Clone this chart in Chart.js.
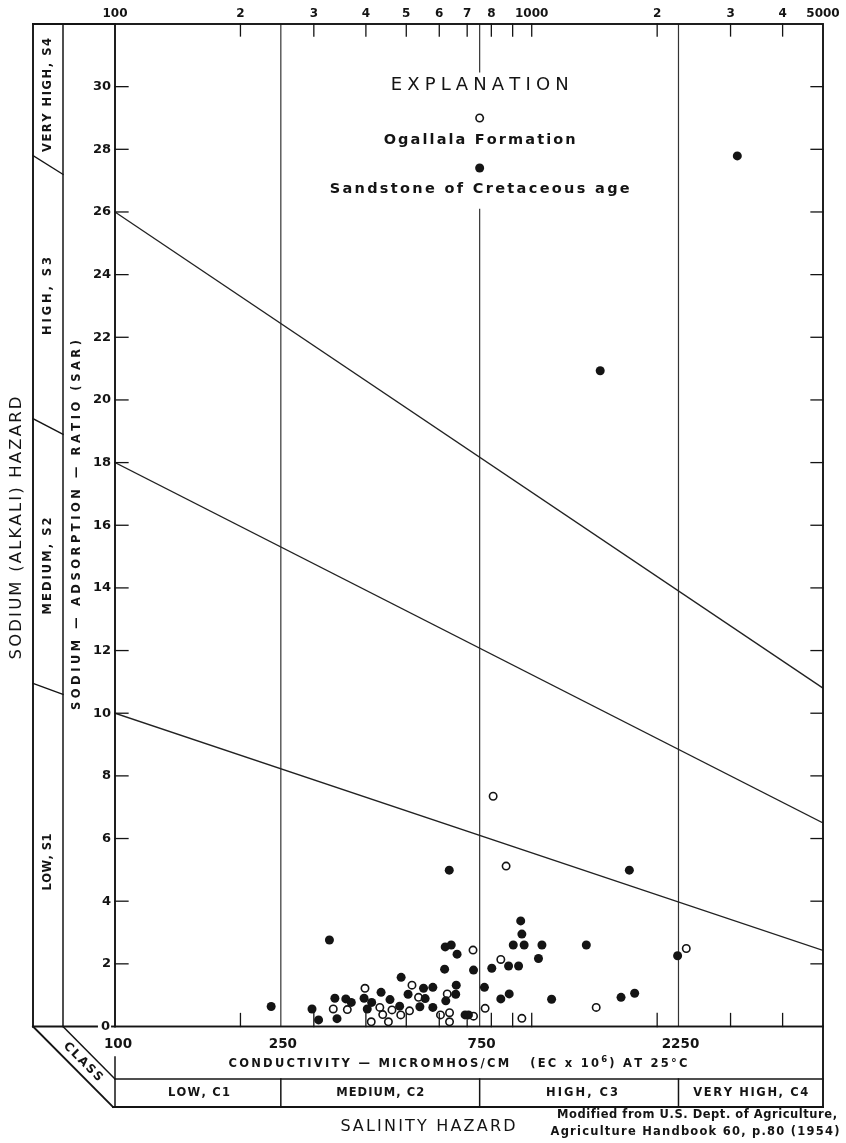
<!DOCTYPE html>
<html><head><meta charset="utf-8">
<script src="https://cdn.jsdelivr.net/npm/chart.js@4.4.1/dist/chart.umd.min.js"></script>
<style>html,body{margin:0;padding:0;background:#fff;}#wrap{width:846px;height:1143px;}</style>
</head><body><div id="wrap"><canvas id="c" width="846" height="1143"></canvas></div>
<script>
// ---- data ----
const cretaceousEC  = [237,327,297,308,337,341,358,369,396,403,413,435,457,486,505,482,550,579,555,539,579,620,641,662,618,725,659,657,622,692,705,770,802,880,930,843,883,903,941,947,959,1038,1058,1116,1352,1638,1766,1715,2239,1460,3114,634];
const cretaceousSAR = [0.64,2.76,0.56,0.21,0.90,0.25,0.88,0.77,0.90,0.56,0.77,1.09,0.86,1.57,1.03,0.65,1.22,1.25,0.89,0.63,0.61,2.54,2.60,2.31,1.83,1.80,1.32,1.03,0.82,0.37,0.37,1.25,1.86,1.93,1.93,0.88,1.04,2.60,3.37,2.95,2.60,2.17,2.60,0.87,2.60,0.93,1.06,4.99,2.26,20.93,27.79,4.99];
const ogallalaEC  = [334,361,398,412,432,439,462,453,485,516,509,535,627,604,635,635,723,725,773,843,947,1428,2349,808,868];
const ogallalaSAR = [0.56,0.54,1.22,0.15,0.61,0.38,0.53,0.15,0.37,1.32,0.50,0.93,1.04,0.37,0.44,0.15,2.44,0.33,0.58,2.14,0.26,0.61,2.49,7.35,5.12];

const salinityBounds  = [100, 250, 750, 2250, 5000];
const salinityClasses = ['LOW, C1', 'MEDIUM, C2', 'HIGH, C3', 'VERY HIGH, C4'];
const sarLineAt100  = [10, 18, 26];
const sarLineAt5000 = [2.43, 6.5, 10.8];
const sodiumClasses = ['LOW, S1', 'MEDIUM, S2', 'HIGH, S3', 'VERY HIGH, S4'];
const sodiumBoundOuter = [10.95, 19.4, 27.8];
const sodiumBoundInner = [10.6, 18.9, 27.2];
const logTickValues = [200,300,400,500,600,700,800,900,1000,2000,3000,4000];
const topLabelValues = [100,200,300,400,500,600,700,800,1000,2000,3000,4000,5000];
const topLabelTexts  = ['100','2','3','4','5','6','7','8','1000','2','3','4','5000'];
const bottomLabelTexts = ['100','250','750','2250'];
const yTickValues = [0,2,4,6,8,10,12,14,16,18,20,22,24,26,28,30];
const legendGapSAR = [26.1, 30.45];

const INK = '#141414';
const FONT = '"DejaVu Sans", sans-serif';

function pts(xs, ys) { return xs.map((x, i) => ({x: x, y: ys[i]})); }

const datasets = [];
datasets.push({label:'Sandstone of Cretaceous age', data: pts(cretaceousEC, cretaceousSAR), showLine:false,
  pointRadius:4.5, pointHoverRadius:4.5, backgroundColor:INK, borderColor:INK, borderWidth:0, order:0});
datasets.push({label:'Ogallala Formation', data: pts(ogallalaEC, ogallalaSAR), showLine:false,
  pointRadius:3.7, pointHoverRadius:3.7, backgroundColor:'#fff', borderColor:INK, borderWidth:1.6, order:0});
sarLineAt100.forEach((s, i) => datasets.push({type:'line', data:[{x:100,y:s},{x:5000,y:sarLineAt5000[i]}],
  borderColor:'#222', borderWidth:1.3, pointRadius:0, order:2}));
[250, 750, 2250].forEach(v => {
  const d = v === 750
    ? [{x:v,y:0},{x:v,y:legendGapSAR[0]},{x:v,y:null},{x:v,y:legendGapSAR[1]},{x:v,y:32}]
    : [{x:v,y:0},{x:v,y:32}];
  datasets.push({type:'line', data:d, borderColor:'#333', borderWidth:1.2, pointRadius:0, spanGaps:false, order:3});
});

const SUP = '\u2076';
function spaced(ctx, text, cx, cy, width, font, supFont) {
  const chars = [...text];
  const ws = chars.map(c => { ctx.font = (c === SUP && supFont) ? supFont : font; return ctx.measureText(c === SUP && supFont ? '6' : c).width; });
  const nat = ws.reduce((a, b) => a + b, 0);
  if (width == null) width = nat;
  const sp = chars.length > 1 ? (width - nat) / (chars.length - 1) : 0;
  let x = cx - width / 2;
  ctx.textAlign = 'left'; ctx.textBaseline = 'middle';
  chars.forEach((c, i) => {
    if (c === SUP && supFont) { ctx.font = supFont; ctx.fillText('6', x, cy - 4); }
    else { ctx.font = font; ctx.fillText(c, x, cy); }
    x += ws[i] + sp;
  });
}
function rotText(ctx, text, cx, cy, ang, width, font) {
  ctx.save(); ctx.translate(cx, cy); ctx.rotate(ang);
  spaced(ctx, text, 0, 0, width, font);
  ctx.restore();
}
function line(ctx, x1, y1, x2, y2) { ctx.beginPath(); ctx.moveTo(x1, y1); ctx.lineTo(x2, y2); ctx.stroke(); }

const decor = {
  id: 'decor',
  afterDraw(chart) {
    const ctx = chart.ctx, a = chart.chartArea;
    const xs = chart.scales.x, ys = chart.scales.y;
    const X = v => xs.getPixelForValue(v), Y = v => ys.getPixelForValue(v);
    const outerX = 33, innerX = 63;
    const stripTop = 1079, stripBot = 1107;
    ctx.save();
    ctx.strokeStyle = INK; ctx.fillStyle = INK; ctx.lineCap = 'square';
    // plot frame
    ctx.lineWidth = 1.9;
    ctx.strokeRect(a.left, a.top, a.right - a.left, a.bottom - a.top);
    // sodium class panel
    line(ctx, outerX, a.top, a.left, a.top);
    line(ctx, outerX, a.top, outerX, a.bottom);
    ctx.lineWidth = 1.5;
    line(ctx, innerX, a.top, innerX, a.bottom);
    ctx.lineWidth = 1.9;
    line(ctx, outerX, a.bottom, 97, a.bottom);
    line(ctx, 112, a.bottom, a.left, a.bottom);
    ctx.lineWidth = 1.4;
    sodiumBoundOuter.forEach((s, i) => line(ctx, outerX, Y(s), innerX, Y(sodiumBoundInner[i])));
    // diagonals and salinity strip
    ctx.lineWidth = 1.9;
    line(ctx, outerX, a.bottom, a.left - 2, stripBot);
    ctx.lineWidth = 1.5;
    line(ctx, innerX, a.bottom, a.left, stripTop);
    ctx.lineWidth = 1.8;
    line(ctx, a.left - 2, stripBot, a.right, stripBot);
    ctx.lineWidth = 1.5;
    line(ctx, a.left, stripTop, a.right, stripTop);
    line(ctx, a.left, 1057, a.left, stripBot);
    ctx.lineWidth = 1.9;
    line(ctx, a.right, a.bottom, a.right, stripBot);
    ctx.lineWidth = 1.5;
    salinityBounds.slice(1, -1).forEach(v => line(ctx, X(v), stripTop, X(v), stripBot));
    // ticks
    ctx.lineWidth = 1.3;
    logTickValues.forEach(v => { line(ctx, X(v), a.top, X(v), a.top + 12); line(ctx, X(v), a.bottom, X(v), a.bottom - 13); });
    yTickValues.forEach(v => { if (v === 0) return; line(ctx, a.left, Y(v), a.left + 13, Y(v)); line(ctx, a.right, Y(v), a.right - 12, Y(v)); });
    // tick labels
    topLabelValues.forEach((v, i) => spaced(ctx, topLabelTexts[i], X(v), 14, null, 'bold 12px ' + FONT));
    yTickValues.forEach(v => {
      ctx.font = 'bold 13px ' + FONT; ctx.textAlign = 'right'; ctx.textBaseline = 'middle';
      ctx.fillText(String(v), v === 0 ? 110 : 111, Y(v));
    });
    salinityBounds.slice(0, -1).forEach((v, i) => spaced(ctx, bottomLabelTexts[i], X(v) + (i === 0 ? 3 : 2), 1044, null, 'bold 13.5px ' + FONT));
    // axis titles
    spaced(ctx, 'CONDUCTIVITY \u2014 MICROMHOS/CM   (EC x 10' + SUP + ') AT 25\u00B0C', 458, 1064, 459, 'bold 11.5px ' + FONT, 'bold 8.5px ' + FONT);
    salinityClasses.forEach((t, i) => {
      const c = (X(salinityBounds[i]) + X(salinityBounds[i + 1])) / 2;
      const w = [62, 88, 72, 115][i];
      spaced(ctx, t, c + [1, 0, 3, 0][i], 1093, w, 'bold 11.5px ' + FONT);
    });
    spaced(ctx, 'SALINITY HAZARD', 428, 1127, 175, '16px ' + FONT);
    spaced(ctx, 'Modified from U.S. Dept. of Agriculture,', 697, 1115, 280, 'bold 11.5px ' + FONT);
    spaced(ctx, 'Agriculture Handbook 60, p.80 (1954)', 695, 1132, 289, 'bold 11.5px ' + FONT);
    rotText(ctx, 'CLASS', 83, 1062, Math.PI / 4, 50, 'bold 12px ' + FONT);
    rotText(ctx, 'SODIUM (ALKALI) HAZARD', 17, 528, -Math.PI / 2, 263, '16.5px ' + FONT);
    rotText(ctx, 'SODIUM \u2014 ADSORPTION \u2014 RATIO (SAR)', 77, 525, -Math.PI / 2, 370, 'bold 11.5px ' + FONT);
    const sc = [[862, 57], [566, 97], [296, 78], [95, 114]];
    sodiumClasses.forEach((t, i) => rotText(ctx, t, 48, sc[i][0], -Math.PI / 2, sc[i][1], 'bold 11.5px ' + FONT));
    // explanation
    const lx = X(750);
    spaced(ctx, 'EXPLANATION', lx, 85, 178, '18px ' + FONT);
    ctx.lineWidth = 1.6;
    ctx.beginPath(); ctx.arc(lx, 118, 3.7, 0, Math.PI * 2); ctx.fillStyle = '#fff'; ctx.fill(); ctx.stroke();
    ctx.fillStyle = INK;
    spaced(ctx, 'Ogallala Formation', lx, 140, 192, 'bold 14.5px ' + FONT);
    ctx.beginPath(); ctx.arc(lx, 168, 4.5, 0, Math.PI * 2); ctx.fill();
    spaced(ctx, 'Sandstone of Cretaceous age', lx, 189, 300, 'bold 14.5px ' + FONT);
    ctx.restore();
  }
};

new Chart(document.getElementById('c'), {
  type: 'scatter',
  data: { datasets: datasets },
  options: {
    responsive: false, animation: false, devicePixelRatio: 1,
    layout: { padding: { left: 115, right: 23, top: 24, bottom: 116.5 } },
    scales: {
      x: { type: 'logarithmic', min: 100, max: 5000, display: false },
      y: { type: 'linear', min: 0, max: 32, display: false }
    },
    plugins: { legend: { display: false }, tooltip: { enabled: false } }
  },
  plugins: [decor]
});
</script></body></html>
